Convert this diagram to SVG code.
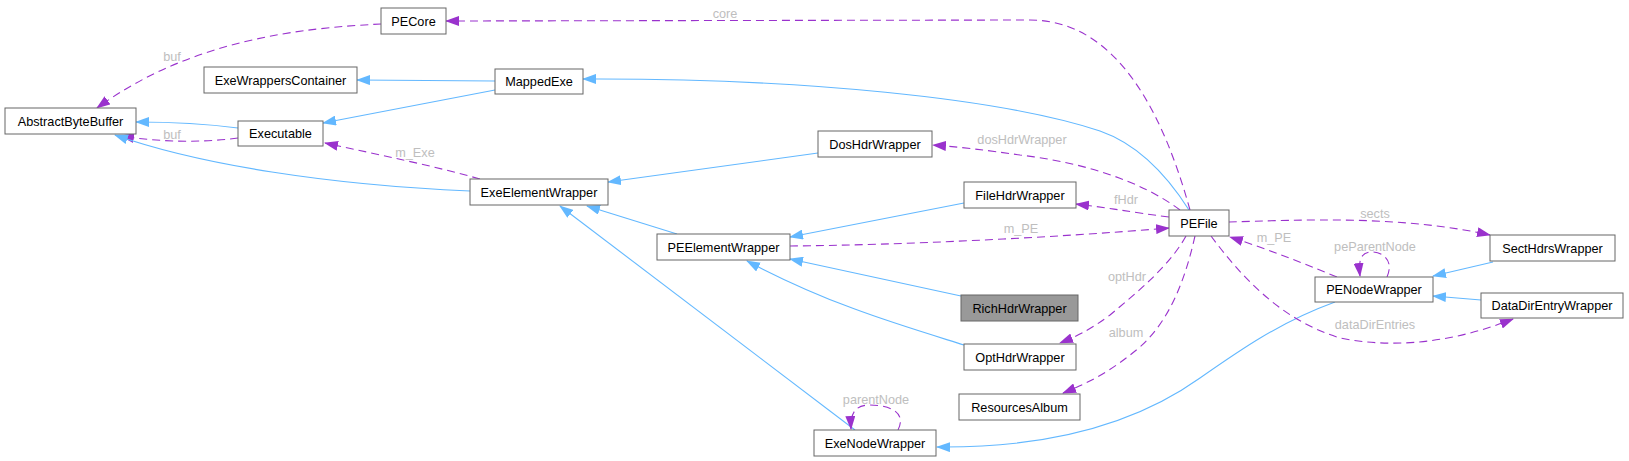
<svg xmlns="http://www.w3.org/2000/svg" width="1629" height="461" viewBox="0 0 1629 461">
<style>
.n rect{fill:#fff;stroke:#666;stroke-width:1}
.n text{font-family:"Liberation Sans",Arial,sans-serif;font-size:12.7px;fill:#000;text-anchor:middle}
.e path{fill:none;stroke-width:1.1}
.b{stroke:#63b8ff;marker-end:url(#ab)}
.d{stroke:#9a32cd;stroke-dasharray:8,5;marker-end:url(#ap)}
.l{font-family:"Liberation Sans",Arial,sans-serif;font-size:12.7px;fill:#bebebe;text-anchor:middle}
</style>
<defs>
<marker id="ab" viewBox="0 0 14 10" refX="13" refY="5" markerWidth="14" markerHeight="10" markerUnits="userSpaceOnUse" orient="auto"><path d="M0,0L14,5L0,10z" fill="#63b8ff"/></marker>
<marker id="ap" viewBox="0 0 14 10" refX="13" refY="5" markerWidth="14" markerHeight="10" markerUnits="userSpaceOnUse" orient="auto"><path d="M0,0L14,5L0,10z" fill="#9a32cd"/></marker>
</defs>
<rect width="1629" height="461" fill="#fff"/>
<g id="edges" class="e">
<path class="d" d="M1190,210 C1165,120 1120,20 1030,20 L446,21"/>
<path class="d" d="M381,24 C300,28 190,40 97,108"/>
<path class="b" d="M495,81 L357,80"/>
<path class="b" d="M495,90 L323,123"/>
<path class="b" d="M238,128 C200,123 170,122 136,122"/>
<path class="d" d="M238,138 C200,143 160,142 121,136"/>
<path class="b" d="M470,191 C330,185 200,165 115,135"/>
<path class="d" d="M480,179 C430,165 380,155 325,143"/>
<path class="b" d="M1189,210 C1170,180 1140,145 1100,131 C1000,98 800,78 583,79"/>
<path class="b" d="M818,153 L608,182"/>
<path class="d" d="M1180,210 C1140,180 1080,162 1020,155 C985,150 960,147 933,145"/>
<path class="d" d="M1169,217 C1130,212 1110,208 1076,204"/>
<path class="b" d="M964,203 L790,237"/>
<path class="b" d="M677,234 L587,206"/>
<path class="d" d="M790,246 C900,245 1050,238 1169,228"/>
<path class="b" d="M961,296 L790,259"/>
<path class="b" d="M964,345 C900,325 830,305 747,261"/>
<path class="b" d="M855,430 L560,206"/>
<path class="d" d="M898,430 C908,410 885,405 870,405 C858,405 850,410 851,429"/>
<path class="d" d="M1186,236 C1170,265 1140,290 1110,315 C1090,330 1075,337 1060,343"/>
<path class="d" d="M1195,236 C1185,280 1170,320 1140,347 C1110,372 1090,382 1063,393"/>
<path class="b" d="M1335,302 C1280,322 1240,350 1200,378 C1130,428 1040,448 937,447"/>
<path class="d" d="M1229,222 C1300,220 1400,215 1490,235"/>
<path class="d" d="M1337,277 C1300,262 1270,250 1230,237"/>
<path class="d" d="M1387,277 C1395,258 1380,252 1372,252 C1362,252 1358,258 1360,276"/>
<path class="b" d="M1493,262 L1433,276"/>
<path class="b" d="M1481,300 L1433,296"/>
<path class="d" d="M1211,236 C1240,275 1280,320 1340,338 C1400,350 1460,340 1513,319"/>
<text class="l" x="725" y="18">core</text>
<text class="l" x="172" y="61">buf</text>
<text class="l" x="172" y="139">buf</text>
<text class="l" x="415" y="157">m_Exe</text>
<text class="l" x="1022" y="144">dosHdrWrapper</text>
<text class="l" x="1126" y="204">fHdr</text>
<text class="l" x="1021" y="233">m_PE</text>
<text class="l" x="876" y="404">parentNode</text>
<text class="l" x="1127" y="281">optHdr</text>
<text class="l" x="1126" y="337">album</text>
<text class="l" x="1375" y="218">sects</text>
<text class="l" x="1274" y="242">m_PE</text>
<text class="l" x="1375" y="251">peParentNode</text>
<text class="l" x="1375" y="329">dataDirEntries</text>
</g>
<g id="PECore" class="n"><rect x="381" y="8" width="65" height="26"/><text x="413.5" y="25.5">PECore</text></g>
<g id="ExeWrappersContainer" class="n"><rect x="204" y="67" width="153" height="26"/><text x="280.5" y="84.5">ExeWrappersContainer</text></g>
<g id="AbstractByteBuffer" class="n"><rect x="5" y="108" width="131" height="26"/><text x="70.5" y="125.5">AbstractByteBuffer</text></g>
<g id="Executable" class="n"><rect x="238" y="121" width="85" height="25"/><text x="280.5" y="138">Executable</text></g>
<g id="MappedExe" class="n"><rect x="495" y="69" width="88" height="25"/><text x="539" y="86">MappedExe</text></g>
<g id="ExeElementWrapper" class="n"><rect x="470" y="179" width="138" height="26"/><text x="539" y="196.5">ExeElementWrapper</text></g>
<g id="DosHdrWrapper" class="n"><rect x="818" y="131" width="114" height="26"/><text x="875" y="148.5">DosHdrWrapper</text></g>
<g id="FileHdrWrapper" class="n"><rect x="964" y="182" width="112" height="26"/><text x="1020" y="199.5">FileHdrWrapper</text></g>
<g id="PEFile" class="n"><rect x="1169" y="210" width="60" height="26"/><text x="1199" y="227.5">PEFile</text></g>
<g id="PEElementWrapper" class="n"><rect x="657" y="234" width="133" height="26"/><text x="723.5" y="251.5">PEElementWrapper</text></g>
<g id="RichHdrWrapper" class="n"><rect x="961" y="295" width="117" height="26" style="fill:#999"/><text x="1019.5" y="312.5">RichHdrWrapper</text></g>
<g id="OptHdrWrapper" class="n"><rect x="964" y="344" width="112" height="26"/><text x="1020" y="361.5">OptHdrWrapper</text></g>
<g id="ResourcesAlbum" class="n"><rect x="959" y="394" width="121" height="26"/><text x="1019.5" y="411.5">ResourcesAlbum</text></g>
<g id="ExeNodeWrapper" class="n"><rect x="814" y="430" width="122" height="26"/><text x="875" y="447.5">ExeNodeWrapper</text></g>
<g id="SectHdrsWrapper" class="n"><rect x="1490" y="235" width="125" height="26"/><text x="1552.5" y="252.5">SectHdrsWrapper</text></g>
<g id="PENodeWrapper" class="n"><rect x="1315" y="277" width="118" height="25"/><text x="1374" y="294">PENodeWrapper</text></g>
<g id="DataDirEntryWrapper" class="n"><rect x="1481" y="293" width="142" height="25"/><text x="1552" y="310">DataDirEntryWrapper</text></g>
</svg>
